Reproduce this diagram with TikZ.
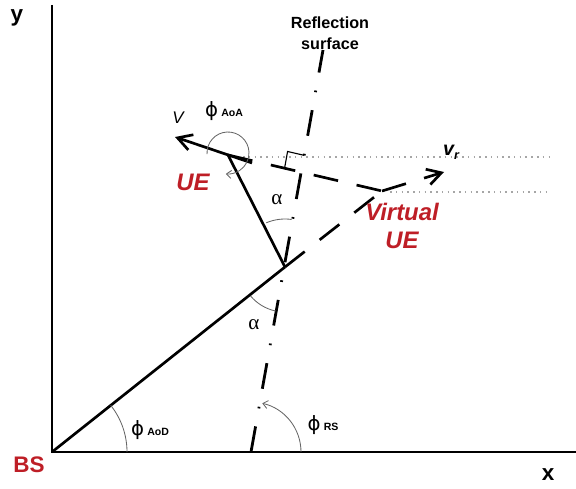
\documentclass[tikz,border=0pt]{standalone}
\usepackage{fontspec}
\setmainfont{Liberation Sans}
\newfontfamily\grk{DejaVu Sans}
\newfontfamily\grkserif{Liberation Serif}
\usetikzlibrary{arrows.meta,calc}
\definecolor{uered}{RGB}{190,30,38}
\tikzset{
  axisline/.style = {line width=2pt},
  path/.style     = {line width=1.9pt},
  mirror/.style   = {line width=1.9pt, dash pattern=on 17.8pt off 13.5pt},
  surface/.style  = {line width=2pt, dash pattern=on 18.5pt off 13pt on 1.2pt off 13pt},
  angarc/.style   = {draw=black!60, line width=0.6pt},
  guide/.style    = {draw=black!35, line width=1.1pt, dash pattern=on 1.1pt off 3pt},
  velo/.style     = {-{Straight Barb[length=3.5mm, width=4mm]}},
  redlbl/.style   = {text=uered, font=\fontsize{17}{20}\selectfont\bfseries\itshape, align=center},
  axlbl/.style    = {font=\fontsize{16}{18}\selectfont\bfseries},
  anglbl/.style   = {font=\fontsize{14}{15}\selectfont, inner sep=0pt},
}
\newcommand{\angname}[1]{{\grk ϕ}\,{\fontsize{7.5}{8}\selectfont\bfseries #1}}

\begin{document}
\begin{tikzpicture}[x=0.25mm, y=0.25mm]
  \useasboundingbox (0,0) rectangle (576,488);
  % points
  \coordinate (BS)   at (52,36);
  \coordinate (xend) at (576,36);
  \coordinate (ytop) at (52,483);
  \coordinate (S0)   at (251,36);
  \coordinate (S1)   at (323,438);
  \coordinate (R)    at (285,221);
  \coordinate (UE)   at (228,333);
  \coordinate (Vtail) at (252,325);
  \coordinate (Vtip) at (175,351);
  \coordinate (VUE)  at (382,297);
  \coordinate (VRtip) at (444,316);
  \coordinate (F) at (intersection of UE--VUE and S0--S1);
  \coordinate (g1a) at (243,331);
  \coordinate (g1b) at (550,331);
  \coordinate (g2a) at (390,296);
  \coordinate (g2b) at (548,296);

  % axes
  \draw[axisline] (ytop) -- (BS) -- (xend);
  % reflection surface
  \draw[surface] (S0) -- (S1);
  % guide lines
  \draw[guide] (g1a) -- (g1b);
  \draw[guide] (g2a) -- (g2b);
  % rays
  \draw[path] (BS) -- (R);
  \draw[path] (R) -- (UE);
  \draw[mirror] (R) -- (VUE);
  \draw[mirror] (UE) -- (VUE);
  % velocities
  \draw[path, velo] (Vtail) -- (Vtip);
  \draw[mirror, velo] (VUE) -- (VRtip);
  % right angle
  \coordinate (ra1) at ($(F)!4.25mm!(UE)$);
  \coordinate (ra3) at ($(F)!4.25mm!(S1)$);
  \draw[line width=0.8pt] (ra1) -- ($(ra1)+(ra3)-(F)$) -- (ra3);
  % angle arcs
  \draw[angarc, -{Straight Barb[length=1.2mm, width=2mm]}] ($(UE)+(0,2)+(183:21)$) arc[start angle=183, end angle=-96, radius=21];
  \draw[angarc] ($(R)+(113:48)$) arc[start angle=113, end angle=82, radius=48];
  \draw[angarc] ($(R)+(220:45)$) arc[start angle=220, end angle=258, radius=45];
  \draw[angarc] ($(BS)+(0:75)$) arc[start angle=0, end angle=38.5, radius=75];
  \draw[angarc, -{Straight Barb[length=1.2mm, width=2mm]}] ($(S0)+(0:50)$) arc[start angle=0, end angle=77, radius=50];

  % labels
  \node[axlbl] (ylbl) at (17,470) {y};
  \node[axlbl] (xlbl) at (548,13) {x};
  \node[redlbl, font=\fontsize{16}{18}\selectfont\bfseries] (bslbl) at (29,23) {BS};
  \node[redlbl] (uelbl) at (193,306) {UE};
  \node[redlbl] (vuelbl) at (402,262) {Virtual\\UE};
  \node[font=\fontsize{11.5}{15}\selectfont\bfseries, align=center] (surflbl) at (330,455) {Reflection\\surface};
  \node[font=\fontsize{14}{16}\selectfont\bfseries\itshape] (vrlbl) at (451,336) {v\raisebox{-0.35ex}{\fontsize{9}{10}\selectfont r}};
  \node[font=\fontsize{12}{14}\selectfont\itshape] (vlbl) at (178,370) {V};
  \node[anglbl] (aoalbl) at (224,377) {\angname{AoA}};
  \node[anglbl] (aodlbl) at (150,58) {\angname{AoD}};
  \node[anglbl] (rslbl) at (323,63) {\angname{RS}};
  \node[font=\fontsize{15}{16}\selectfont\grkserif] (al1) at (277,288) {α};
  \node[font=\fontsize{15}{16}\selectfont\grkserif] (al2) at (254,163) {α};
\end{tikzpicture}
\end{document}
